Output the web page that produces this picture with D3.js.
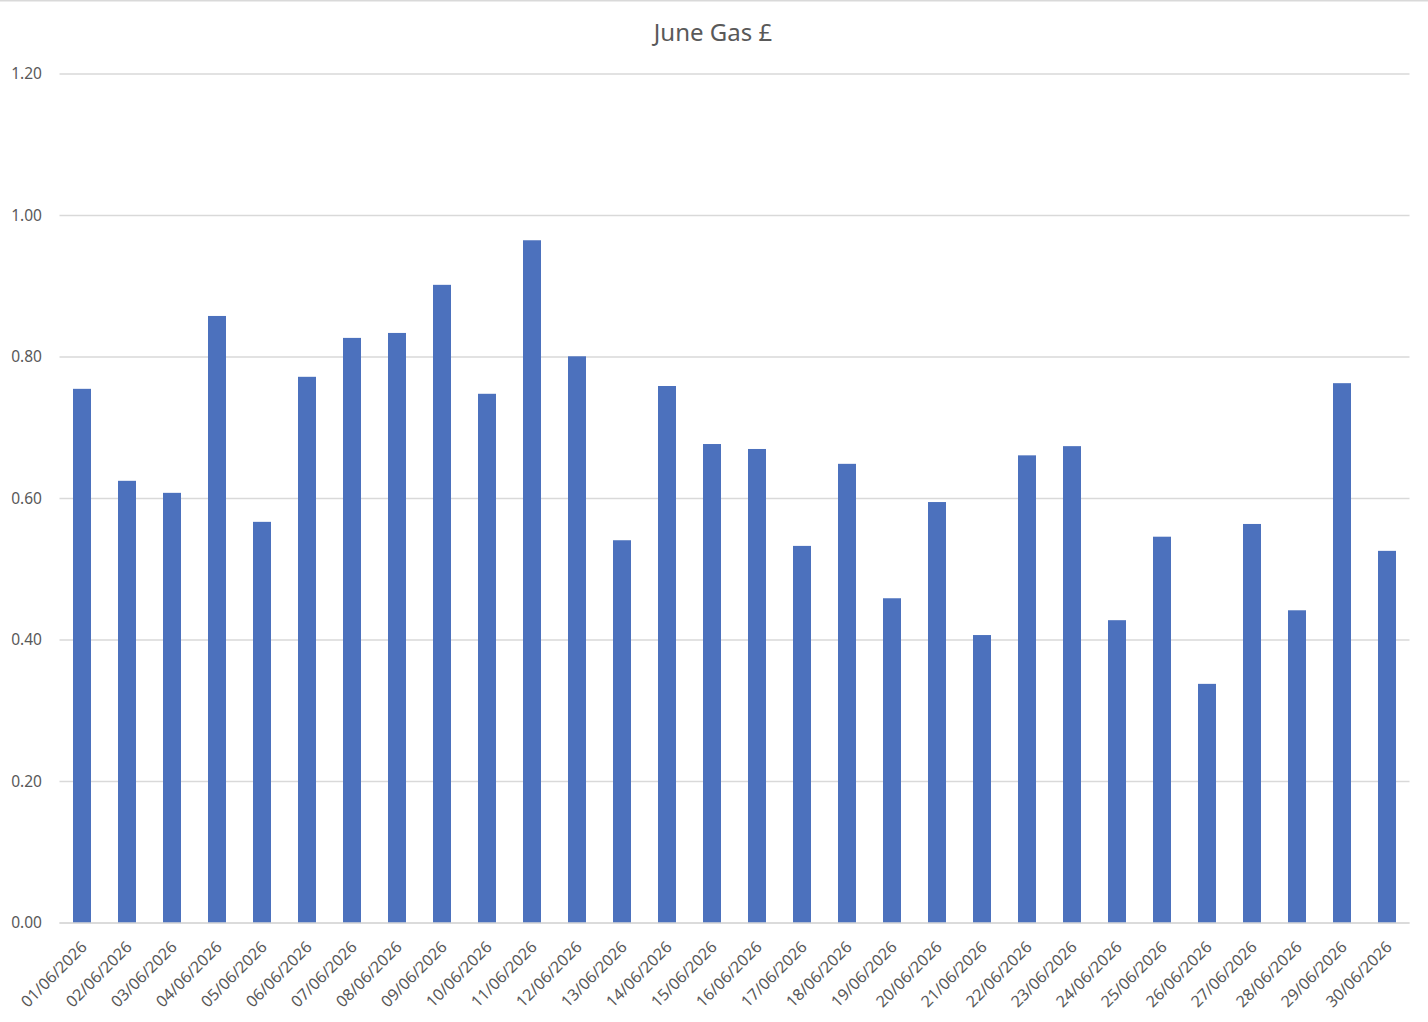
<!DOCTYPE html>
<html>
<head>
<meta charset="utf-8">
<script src="https://cdn.jsdelivr.net/npm/d3@7/dist/d3.min.js"></script>
<style>
  html, body { margin: 0; padding: 0; background: #fff; }
  svg { display: block; }
  text { font-family: "Noto Sans", "Liberation Sans", sans-serif; fill: #595959; }
</style>
</head>
<body>
<script>
const title = "June Gas £";
const dates = [
  "01/06/2026","02/06/2026","03/06/2026","04/06/2026","05/06/2026","06/06/2026",
  "07/06/2026","08/06/2026","09/06/2026","10/06/2026","11/06/2026","12/06/2026",
  "13/06/2026","14/06/2026","15/06/2026","16/06/2026","17/06/2026","18/06/2026",
  "19/06/2026","20/06/2026","21/06/2026","22/06/2026","23/06/2026","24/06/2026",
  "25/06/2026","26/06/2026","27/06/2026","28/06/2026","29/06/2026","30/06/2026"
];
const costs = [
  0.755, 0.625, 0.608, 0.858, 0.567, 0.772,
  0.827, 0.834, 0.902, 0.748, 0.965, 0.801,
  0.541, 0.759, 0.677, 0.670, 0.533, 0.649,
  0.459, 0.595, 0.407, 0.661, 0.674, 0.428,
  0.546, 0.338, 0.564, 0.442, 0.763, 0.526
];
const yTicks = [0, 0.2, 0.4, 0.6, 0.8, 1.0, 1.2];

(function () {
const W = 1428, H = 1022;
const mLeft = 59.5, mRight = 1409.5, mTop = 74, mBottom = 923;

const svg = d3.select("body").append("svg").attr("width", W).attr("height", H);

// chart border (top edge visible)
svg.append("line").attr("x1", 0).attr("x2", W).attr("y1", 0.75).attr("y2", 0.75)
  .attr("stroke", "#d9d9d9").attr("stroke-width", 1.5);

const x = d3.scaleBand().domain(dates).range([mLeft, mRight]).paddingInner(0.6).paddingOuter(0.3);
const y = d3.scaleLinear().domain([0, 1.2]).range([mBottom, mTop]);

// gridlines
svg.append("g").selectAll("line").data(yTicks).join("line")
  .attr("x1", mLeft).attr("x2", mRight)
  .attr("y1", d => y(d)).attr("y2", d => y(d))
  .attr("stroke", "#d9d9d9").attr("stroke-width", 1.5);

// y labels
svg.append("g").selectAll("text").data(yTicks).join("text")
  .attr("x", 42).attr("y", d => y(d)).attr("dy", "0.35em")
  .attr("text-anchor", "end").attr("font-size", "15.5px")
  .text(d => d3.format(".2f")(d));

// bars
svg.append("g").selectAll("rect").data(costs).join("rect")
  .attr("x", (d, i) => x(dates[i]))
  .attr("width", x.bandwidth())
  .attr("y", d => y(d))
  .attr("height", d => y(0) - y(d))
  .attr("fill", "#4c71bd");

// baseline axis
svg.append("line").attr("x1", mLeft).attr("x2", mRight).attr("y1", y(0)).attr("y2", y(0))
  .attr("stroke", "#d9d9d9").attr("stroke-width", 1.5);

// x labels
svg.append("g").selectAll("text").data(dates).join("text")
  .attr("transform", d => `translate(${x(d) + x.bandwidth() / 2 + 6},${mBottom + 25}) rotate(-45)`)
  .attr("text-anchor", "end").attr("font-size", "16px")
  .text(d => d);

// title
svg.append("text").attr("x", 713).attr("y", 41).attr("text-anchor", "middle")
  .attr("font-size", "24px").text(title);
})();
</script>
</body>
</html>
